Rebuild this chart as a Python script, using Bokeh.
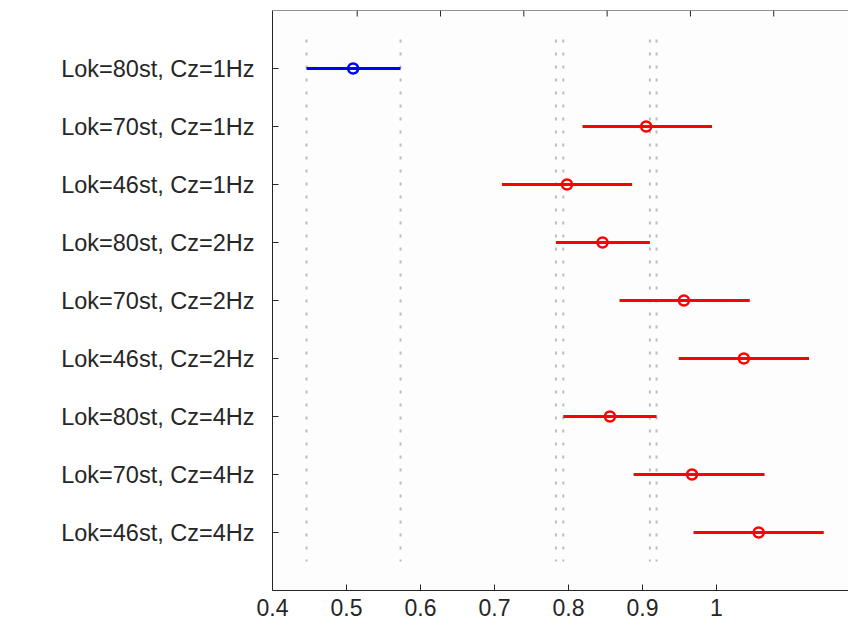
from bokeh.plotting import figure
from bokeh.models import Range1d, LinearAxis, FixedTicker, ColumnDataSource, Span
from bokeh.embed import file_html
from bokeh.resources import INLINE

# ---- data ----
labels = ["Lok=80st, Cz=1Hz", "Lok=70st, Cz=1Hz", "Lok=46st, Cz=1Hz",
          "Lok=80st, Cz=2Hz", "Lok=70st, Cz=2Hz", "Lok=46st, Cz=2Hz",
          "Lok=80st, Cz=4Hz", "Lok=70st, Cz=4Hz", "Lok=46st, Cz=4Hz"]
means = [0.509, 0.905, 0.798, 0.846, 0.956, 1.037, 0.856, 0.967, 1.057]
lower = [0.446, 0.819, 0.710, 0.783, 0.869, 0.949, 0.793, 0.888, 0.969]
upper = [0.573, 0.994, 0.886, 0.910, 1.045, 1.125, 0.919, 1.065, 1.145]
selected = 0
x_ticks = [0.4, 0.5, 0.6, 0.7, 0.8, 0.9, 1.0]
x_tick_labels = ["0.4", "0.5", "0.6", "0.7", "0.8", "0.9", "1"]

# ---- derived ----
n = len(labels)
pos = list(range(1, n + 1))
colors = ["#0000ff" if i == selected else "#ff0000" for i in range(n)]
ref_rows = [i for i, l in enumerate(labels) if l.startswith("Lok=80st")]
ref_x = [lower[i] for i in ref_rows] + [upper[i] for i in ref_rows]

FONT = "Liberation Sans"
AX = "#262626"
X0, X1 = 0.4, 1.1784

p = figure(width=848, height=621,
           x_range=Range1d(X0, X1), y_range=Range1d(n + 1, 0),
           output_backend="svg", toolbar_location=None,
           x_axis_location=None, y_axis_location=None,
           min_border_left=272, min_border_right=0,
           min_border_top=10, min_border_bottom=31)
p.grid.visible = False
p.outline_line_color = None
p.background_fill_color = "#fdfdfd"
p.border_fill_color = "white"

# axes
bottom = LinearAxis(ticker=FixedTicker(ticks=x_ticks),
                    major_label_overrides={t: s for t, s in zip(x_ticks, x_tick_labels)})
bottom.major_tick_in = 6
bottom.major_tick_out = 0
bottom.minor_tick_line_color = None
bottom.major_label_standoff = 8
bottom.major_label_text_font = FONT
bottom.major_label_text_font_size = "23px"
bottom.major_label_text_color = AX
bottom.axis_line_color = AX
bottom.major_tick_line_color = AX
p.add_layout(bottom, "below")

left = LinearAxis(ticker=FixedTicker(ticks=pos),
                  major_label_overrides={pp: l for pp, l in zip(pos, labels)})
left.major_tick_in = 6
left.major_tick_out = 0
left.minor_tick_line_color = None
left.major_label_standoff = 18
left.major_label_text_font = FONT
left.major_label_text_font_size = "23.5px"
left.major_label_text_color = AX
left.axis_line_color = AX
left.major_tick_line_color = AX
p.add_layout(left, "left")

# top border line with its inward ticks
p.add_layout(Span(location=0, dimension="width", line_color=AX, line_width=1))
top_step = (X1 - X0) * 83.3 / 576
top_ticks = [X0 + 0.1145 + top_step * k for k in range(6)]
tick_len = 6 * (n + 1) / 580
p.segment(x0=top_ticks, y0=[0] * len(top_ticks), x1=top_ticks, y1=[tick_len] * len(top_ticks),
          line_color=AX, line_width=1)

# reference dotted lines
p.segment(x0=ref_x, y0=[0.5] * len(ref_x), x1=ref_x, y1=[n + 0.5] * len(ref_x),
          line_color="#bdbdbd", line_width=2, line_dash="3 10")

src = ColumnDataSource(dict(lo=lower, hi=upper, m=means, y=pos, c=colors))
p.segment(x0="lo", y0="y", x1="hi", y1="y", line_color="c", line_width=3, source=src)
p.scatter(x="m", y="y", marker="circle", size=10, fill_color=None,
          line_color="c", line_width=2.5, source=src)

open("out.html", "w").write(file_html(p, INLINE))
